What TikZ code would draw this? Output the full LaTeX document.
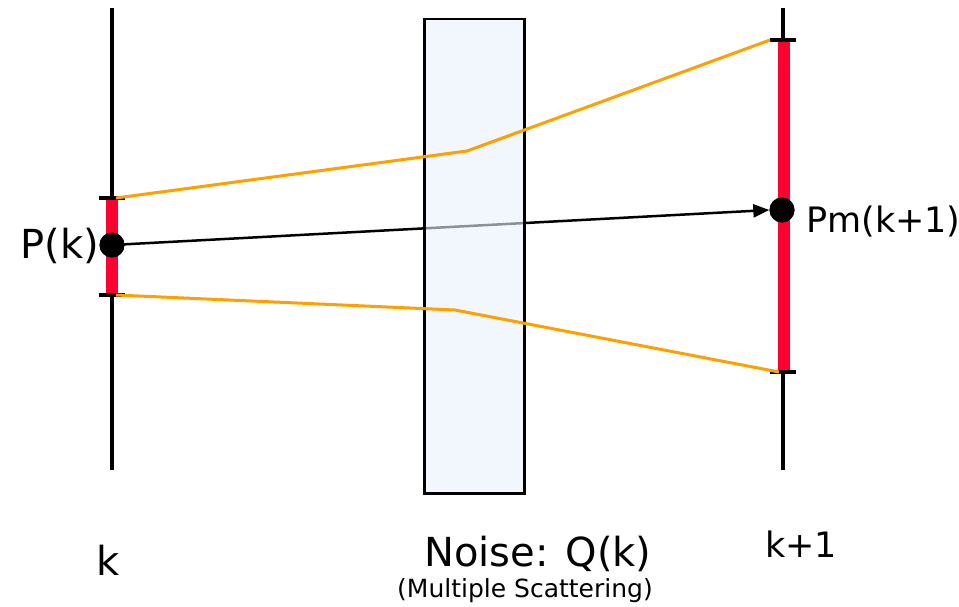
\documentclass[tikz,border=0pt]{standalone}
\usepackage{fontspec}
\setmainfont{DejaVu Sans}
\usetikzlibrary{arrows.meta}
\definecolor{barred}{HTML}{FF0030}
\definecolor{envorange}{HTML}{FFA000}
\definecolor{noisefill}{HTML}{EAF0FC}
\tikzset{
  axis/.style={line width=3.3pt, black},
  bar/.style={line width=12pt, barred},
  tickmark/.style={line width=3.3pt, black},
  envelope/.style={line width=3pt, envorange, line join=round},
  dot/.style={circle, fill=black, inner sep=0pt, minimum size=25pt},
  track/.style={line width=2.5pt, black, -{Triangle[length=16pt,width=13pt]}},
  label/.style={inner sep=0pt},
  big/.style={font=\fontsize{40}{44}\selectfont},
  mid/.style={font=\fontsize{35}{38}\selectfont},
  smalllabel/.style={font=\fontsize{25}{28}\selectfont, inner sep=0pt}
}
\begin{document}
\begin{tikzpicture}[x=1pt,y=-1pt]
\useasboundingbox (0,0) rectangle (959,607);

% detector planes k and k+1
\coordinate (ltop) at (112,8);
\coordinate (lbot) at (112,470);
\coordinate (rtop) at (783,8);
\coordinate (rbot) at (783,470);
\draw[axis] (ltop) -- (lbot);
\draw[axis] (rtop) -- (rbot);

% uncertainty intervals
\coordinate (lhi) at (112,198);
\coordinate (llo) at (112,295);
\coordinate (rhi) at (784,40);
\coordinate (rlo) at (784,372);
\draw[bar] (lhi) -- (llo);
\draw[bar] (rhi) -- (rlo);
\draw[tickmark] ([xshift=-13pt]lhi) -- ([xshift=13pt]lhi);
\draw[tickmark] ([xshift=-13pt]llo) -- ([xshift=13pt]llo);
\draw[tickmark] ([xshift=-14pt]rhi) -- ([xshift=12pt]rhi);
\draw[tickmark] ([xshift=-14pt]rlo) -- ([xshift=12pt]rlo);

% state points
\node[dot] (pk) at (112,245) {};
\node[dot] (pm) at (782,210) {};

% predicted track
\draw[track] (pk.center) -- (pm.west);

% scattering material
\node[draw=black, line width=2.5pt, fill=noisefill, fill opacity=0.6,
      minimum width=100pt, minimum height=474pt, inner sep=0pt,
      anchor=north west] (noise) at (423,18) {};

% error envelope
\coordinate (uknee) at (467,151);
\coordinate (lknee) at (455,310);
\draw[envelope] ([xshift=4pt]lhi) -- (uknee) -- ([xshift=-14pt]rhi);
\draw[envelope] ([xshift=4pt]llo) -- (lknee) -- ([xshift=-5pt]rlo);

% redraw the points above everything
\node[dot] at (pk) {};
\node[dot] at (pm) {};

% labels
\node[label, big, anchor=east] (pklabel) at (99,246) {P(k)};
\node[label, mid, anchor=west] (pmlabel) at (806,222) {Pm(k+1)};
\node[label, big, anchor=base] (klabel) at (108,575) {k};
\node[label, mid, anchor=base] (k1label) at (801,557) {k+1};
\node[label, big, anchor=base] (noiselabel) at (538,566) {Noise: Q(k)};
\node[smalllabel, anchor=base] (mslabel) at (525,597) {(Multiple Scattering)};
\end{tikzpicture}
\end{document}
